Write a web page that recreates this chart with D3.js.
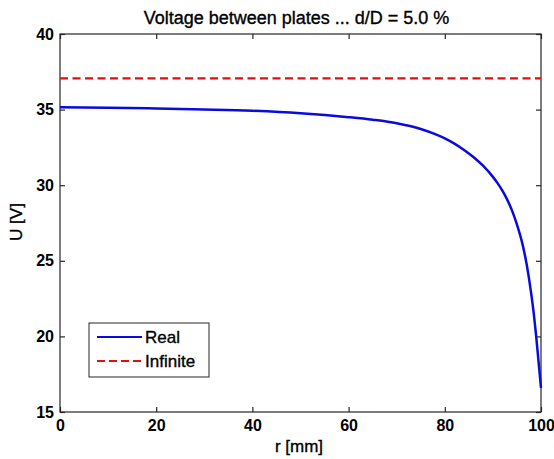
<!DOCTYPE html>
<html><head><meta charset="utf-8">
<script src="https://cdn.jsdelivr.net/npm/d3@7"></script>
<style>
html,body{margin:0;padding:0;background:#fff;}
svg text{font-family:"Liberation Sans",Arial,sans-serif;}
</style></head>
<body>
<svg id="chart" width="554" height="459"></svg>
<script>
const rValues = [0,10,20,30,40,50,60,65,70,75,78,80,82,84,86,88,90,91,92,93,94,95,96,97,98,98.5,99,99.5,100];
const realU   = [35.15,35.13,35.08,35.01,34.92,34.76,34.5,34.33,34.1,33.72,33.38,33.1,32.75,32.33,31.85,31.27,30.55,30.12,29.62,29.03,28.3,27.4,26.3,24.8,22.75,21.5,20.0,18.3,16.6];
const infiniteU = 37.07;
const xTicks = [0,20,40,60,80,100];
const yTicks = [15,20,25,30,35,40];
const seriesNames = ["Real","Infinite"];
const titleText = "Voltage between plates ... d/D = 5.0 %";

const svg = d3.select("#chart");
const L = 60, R = 541, T = 34, B = 412;
const x = d3.scaleLinear().domain([0,100]).range([L,R]);
const y = d3.scaleLinear().domain([15,40]).range([B,T]);
const axisColor = "#262626";

svg.append("rect").attr("x",L).attr("y",T).attr("width",R-L).attr("height",B-T)
  .attr("fill","#fff").attr("stroke",axisColor).attr("stroke-width",1.2);

const fmt = d3.format("d");
const gx = svg.append("g").attr("transform",`translate(0,${B})`)
  .call(d3.axisBottom(x).tickValues(xTicks).tickFormat(fmt).tickSizeInner(-5).tickSizeOuter(0).tickPadding(8));
const gxt = svg.append("g").attr("transform",`translate(0,${T})`)
  .call(d3.axisTop(x).tickValues(xTicks).tickFormat("").tickSizeInner(-5).tickSizeOuter(0));
const gy = svg.append("g").attr("transform",`translate(${L},0)`)
  .call(d3.axisLeft(y).tickValues(yTicks).tickFormat(fmt).tickSizeInner(-5).tickSizeOuter(0).tickPadding(6));
const gyr = svg.append("g").attr("transform",`translate(${R},0)`)
  .call(d3.axisRight(y).tickValues(yTicks).tickFormat("").tickSizeInner(-5).tickSizeOuter(0));
[gx,gxt,gy,gyr].forEach(g=>{
  g.select(".domain").remove();
  g.selectAll(".tick line").attr("stroke",axisColor).attr("stroke-width",1.2);
  g.selectAll(".tick text").attr("fill","#000").style("font-size","16px").style("font-weight","bold")
    .style("font-family","'Liberation Sans',Arial,sans-serif");
});
gx.selectAll(".tick text").attr("dy","0.71em");

const line = d3.line().x(d=>x(d[0])).y(d=>y(d[1]));
svg.append("path").datum(rValues.map((r,i)=>[r,realU[i]]))
  .attr("d",d3.line().x(d=>x(d[0])).y(d=>y(d[1])).curve(d3.curveMonotoneX))
  .attr("fill","none").attr("stroke","#0a0adc").attr("stroke-width",2.5);
svg.append("path").datum([[0,infiniteU],[100,infiniteU]])
  .attr("d",line).attr("fill","none").attr("stroke","#e01010").attr("stroke-width",2.2)
  .attr("stroke-dasharray","8,4.5");

const heavy = t => t.attr("fill","#000").attr("stroke","#000").attr("stroke-width",0.35);
heavy(svg.append("text").attr("x",(L+R)/2-4).attr("y",24).attr("text-anchor","middle")
  .style("font-size","18px").text(titleText));
heavy(svg.append("text").attr("x",299).attr("y",452).attr("text-anchor","middle")
  .style("font-size","17px").text("r [mm]"));
heavy(svg.append("text").attr("transform","translate(22,222) rotate(-90)").attr("text-anchor","middle")
  .style("font-size","17px").text("U [V]"));

const lg = svg.append("g");
lg.append("rect").attr("x",89).attr("y",323).attr("width",120).attr("height",54)
  .attr("fill","#fff").attr("stroke",axisColor).attr("stroke-width",1);
const legendStyles = [{c:"#0a0adc",dash:null,w:2},{c:"#e01010",dash:"8,4",w:2}];
seriesNames.forEach((n,i)=>{
  const yy = 337 + i*24;
  lg.append("line").attr("x1",97).attr("x2",142).attr("y1",yy).attr("y2",yy)
    .attr("stroke",legendStyles[i].c).attr("stroke-width",legendStyles[i].w)
    .attr("stroke-dasharray",legendStyles[i].dash);
  heavy(lg.append("text").attr("x",145).attr("y",yy+6).style("font-size","17px").text(n));
});
</script>
</body></html>
